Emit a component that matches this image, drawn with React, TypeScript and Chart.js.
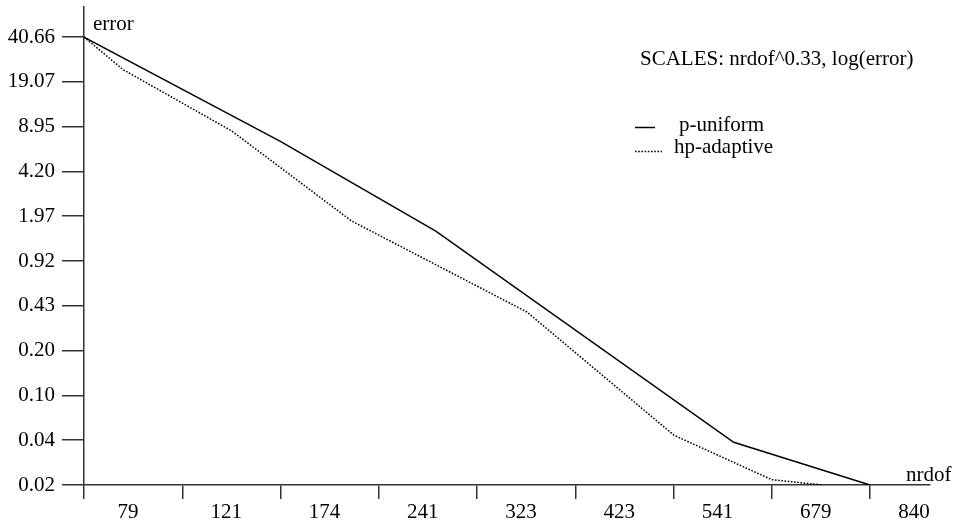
import React, { useEffect, useRef } from "react";
import { Chart, registerables } from "chart.js";

Chart.register(...registerables);

// ---- data ----
const nrdofUniform = [79, 173, 286, 623, 840];
const errorUniform = [40.66, 6.98, 1.53, 0.0432, 0.021];
const nrdofAdaptive = [79, 94, 145, 220, 371, 541, 679, 760];
const errorAdaptive = [40.66, 23.4, 8.33, 1.82, 0.39, 0.0487, 0.023, 0.021];
const xTickLabels = ["79", "121", "174", "241", "323", "423", "541", "679", "840"];
const yTickLabels = ["0.02", "0.04", "0.10", "0.20", "0.43", "0.92", "1.97", "4.20", "8.95", "19.07", "40.66"];
const seriesLabels = ["p-uniform", "hp-adaptive"];
const xPower = 0.33;
const nrdofMin = 79;
const nrdofMax = 840;
const errorMin = 0.021;
const errorMax = 40.66;
const titleText = "SCALES: nrdof^0.33, log(error)";

const FONT = '"Liberation Serif", "Times New Roman", serif';
const FONT_SIZE = 21;

const tx = (n: number) => Math.pow(n, xPower);

const textPlugin = {
  id: "textPlugin",
  afterDraw(chart: any) {
    const ctx = chart.ctx;
    ctx.save();
    ctx.font = `${FONT_SIZE}px ${FONT}`;
    ctx.fillStyle = "#000";
    ctx.textBaseline = "alphabetic";
    ctx.textAlign = "left";
    ctx.fillText("error", 93, 30);
    ctx.fillText("nrdof", 906, 481);
    ctx.fillText(titleText, 640, 65);
    // legend
    const ds = chart.data.datasets;
    const rows = [
      { x0: 635, x1: 655, y: 127.5, tx: 679, ty: 131 },
      { x0: 635, x1: 662, y: 151.5, tx: 674, ty: 153 },
    ];
    ds.forEach((d: any, i: number) => {
      const r = rows[i];
      ctx.beginPath();
      ctx.strokeStyle = d.borderColor;
      ctx.lineWidth = d.borderWidth;
      ctx.setLineDash(d.borderDash || []);
      ctx.moveTo(r.x0, r.y);
      ctx.lineTo(r.x1, r.y);
      ctx.stroke();
      ctx.setLineDash([]);
      ctx.fillText(d.label, r.tx, r.ty);
    });
    ctx.restore();
  },
};

export default function App() {
  const ref = useRef<HTMLCanvasElement | null>(null);
  useEffect(() => {
    if (!ref.current) return;
    const xMin = tx(nrdofMin);
    const xTop = tx(nrdofMax);
    const xMax = xTop + (xTop - xMin) * (60 / 786);
    const yMax = errorMax * Math.pow(errorMax / errorMin, 30 / 447.4);
    const xTicks = xTickLabels.map((_, i) => xMin + (i * (xTop - xMin)) / (xTickLabels.length - 1));
    const yTicks = yTickLabels.map((_, i) => errorMin * Math.pow(errorMax / errorMin, i / (yTickLabels.length - 1)));

    const chart = new Chart(ref.current, {
      type: "line",
      data: {
        datasets: [
          {
            label: seriesLabels[0],
            data: nrdofUniform.map((n, i) => ({ x: tx(n), y: errorUniform[i] })),
            borderColor: "#000",
            borderWidth: 1.5,
            pointRadius: 0,
            tension: 0,
            fill: false,
          },
          {
            label: seriesLabels[1],
            data: nrdofAdaptive.map((n, i) => ({ x: tx(n), y: errorAdaptive[i] })),
            borderColor: "#000",
            borderWidth: 1.5,
            borderDash: [1.6, 1.6],
            pointRadius: 0,
            tension: 0,
            fill: false,
          },
        ],
      },
      options: {
        animation: false,
        responsive: false,
        events: [],
        layout: { padding: { top: 7, right: 24, left: 0, bottom: 0 } },
        plugins: { legend: { display: false }, tooltip: { enabled: false } },
        scales: {
          x: {
            type: "linear",
            min: xMin,
            max: xMax,
            bounds: "data",
            afterFit: (s: any) => {
              s.height = 37;
              s.paddingLeft = 0;
              s.paddingRight = 0;
            },
            afterBuildTicks: (s: any) => {
              s.ticks = xTicks.map((v) => ({ value: v }));
            },
            grid: {
              drawOnChartArea: false,
              drawTicks: true,
              tickLength: 14,
              color: "#333",
              lineWidth: 1.5,
            },
            border: { display: true, color: "#333", width: 1.5 },
            ticks: {
              autoSkip: false,
              maxRotation: 0,
              labelOffset: 44,
              padding: 1,
              color: "#000",
              font: { family: FONT, size: FONT_SIZE },
              callback: (_v: any, i: number) => xTickLabels[i],
            },
          },
          y: {
            type: "logarithmic",
            min: errorMin,
            max: yMax,
            bounds: "data",
            afterFit: (s: any) => {
              s.width = 84;
              s.paddingTop = 0;
              s.paddingBottom = 0;
            },
            afterBuildTicks: (s: any) => {
              s.ticks = yTicks.map((v) => ({ value: v }));
            },
            grid: {
              drawOnChartArea: false,
              drawTicks: true,
              tickLength: 22,
              color: "#333",
              lineWidth: 1.5,
            },
            border: { display: true, color: "#333", width: 1.5 },
            ticks: {
              autoSkip: false,
              padding: 7,
              color: "#000",
              font: { family: FONT, size: FONT_SIZE },
              callback: (_v: any, i: number) => yTickLabels[i],
            },
          },
        },
      },
      plugins: [textPlugin],
    });
    return () => chart.destroy();
  }, []);
  return (
    <canvas
      ref={ref}
      width={954}
      height={522}
      style={{ position: "absolute", left: 0, top: 0, display: "block", background: "#fff" }}
    />
  );
}
